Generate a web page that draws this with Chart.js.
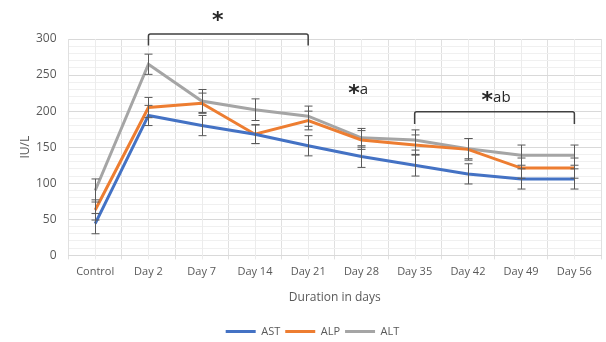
<!DOCTYPE html>
<html lang="en">
<head>
  <meta charset="UTF-8" />
  <title>Enzyme levels</title>
  <script src="https://cdn.jsdelivr.net/npm/chart.js"></script>
  <style>
    html, body { margin: 0; padding: 0; background: #fff; }
    #wrap { width: 606px; height: 342px; }
  </style>
</head>
<body>
  <div id="wrap"><canvas id="chart"></canvas></div>

  <script>
    const days = ['Control', 'Day 2', 'Day 7', 'Day 14', 'Day 21', 'Day 28', 'Day 35', 'Day 42', 'Day 49', 'Day 56'];
    const ast = [44, 194, 180, 168, 152, 137, 125, 113, 106, 106];
    const alp = [63, 205, 211, 168, 187, 160, 153, 147, 121, 121];
    const alt = [90, 265, 214, 202, 193, 163, 160, 148, 139, 139];
    const astErr = [14, 14, 14, 13, 14, 15, 15, 14, 14, 14];
    const alpErr = [14, 14, 14, 13, 13, 13, 14, 15, 14, 14];
    const altErr = [16, 14, 16, 15, 14, 13, 14, 14, 14, 14];

    // significance marks: bracket from/to category index, height in IU/L
    const brackets = [
      { from: 1, to: 4, y: 307, drop: 16, label: '*', sub: '', at: 2.3, ty: 330 },
      { from: 6, to: 9, y: 199, drop: 17, label: '*', sub: 'ab', at: 7.53, ty: 219 }
    ];
    const looseMarks = [{ at: 4.94, ty: 229, label: '*', sub: 'a' }];

    const grey = '#595959';

    const extras = {
      id: 'extras',
      beforeDatasetsDraw(chart) {
        const { ctx, chartArea, scales } = chart;
        ctx.save();
        ctx.strokeStyle = '#ececec';
        ctx.lineWidth = 1;
        days.forEach((d, i) => {
          const x = Math.round(scales.x.getPixelForValue(i)) + 0.5;
          ctx.beginPath();
          ctx.moveTo(x, chartArea.top);
          ctx.lineTo(x, chartArea.bottom + 4);
          ctx.stroke();
        });
        // y axis title
        ctx.translate(chartArea.left - 43, (chartArea.top + chartArea.bottom) / 2);
        ctx.rotate(-Math.PI / 2);
        ctx.fillStyle = grey;
        ctx.font = '12px "Open Sans"';
        ctx.textAlign = 'center';
        ctx.textBaseline = 'middle';
        ctx.fillText('IU/L', 0, 0);
        ctx.restore();
      },
      afterDatasetsDraw(chart) {
        const { ctx, scales } = chart;
        const x = scales.x, y = scales.y;
        const step = x.getPixelForValue(1) - x.getPixelForValue(0);
        ctx.save();
        ctx.strokeStyle = grey;
        ctx.lineWidth = 1;
        [[ast, astErr], [alp, alpErr], [alt, altErr]].forEach(([vals, errs]) => {
          vals.forEach((v, i) => {
            const px = Math.round(x.getPixelForValue(i)) + 0.5;
            const top = y.getPixelForValue(v + errs[i]);
            const bot = y.getPixelForValue(v - errs[i]);
            ctx.beginPath();
            ctx.moveTo(px, top); ctx.lineTo(px, bot);
            ctx.moveTo(px - 4, top); ctx.lineTo(px + 4, top);
            ctx.moveTo(px - 4, bot); ctx.lineTo(px + 4, bot);
            ctx.stroke();
          });
        });

        const mark = (m) => {
          const px = x.getPixelForValue(0) + m.at * step;
          const py = y.getPixelForValue(m.ty);
          ctx.fillStyle = '#262626';
          ctx.textBaseline = 'middle';
          ctx.textAlign = 'left';
          ctx.font = 'bold 22px "DejaVu Sans"';
          const sw = ctx.measureText(m.label).width;
          ctx.font = '15px "Open Sans"';
          const tw = ctx.measureText(m.sub).width;
          const start = px - (sw + tw) / 2;
          ctx.font = 'bold 22px "DejaVu Sans"';
          ctx.fillText(m.label, start, py + 4);
          ctx.font = '15px "Open Sans"';
          ctx.fillText(m.sub, start + sw, py);
        };

        ctx.strokeStyle = '#404040';
        ctx.lineWidth = 1.5;
        brackets.forEach(b => {
          const x1 = x.getPixelForValue(b.from), x2 = x.getPixelForValue(b.to);
          const yy = y.getPixelForValue(b.y), yd = y.getPixelForValue(b.y - b.drop);
          ctx.beginPath();
          ctx.moveTo(x1, yd); ctx.lineTo(x1, yy + 2);
          ctx.quadraticCurveTo(x1, yy, x1 + 2, yy);
          ctx.lineTo(x2 - 2, yy);
          ctx.quadraticCurveTo(x2, yy, x2, yy + 2);
          ctx.lineTo(x2, yd);
          ctx.stroke();
          mark(b);
        });
        looseMarks.forEach(mark);
        ctx.restore();
      }
    };

    const line = (label, data, color) => ({
      label, data,
      borderColor: color,
      backgroundColor: color,
      borderWidth: 3,
      pointRadius: 0,
      tension: 0,
      fill: false
    });

    new Chart(document.getElementById('chart'), {
      type: 'line',
      data: {
        labels: days,
        datasets: [
          line('AST', ast, '#4472C4'),
          line('ALP', alp, '#ED7D31'),
          line('ALT', alt, '#A5A5A5')
        ]
      },
      options: {
        responsive: true,
        maintainAspectRatio: false,
        animation: false,
        layout: { padding: { top: 39, right: 5, left: 24, bottom: -5 } },
        plugins: {
          legend: {
            position: 'bottom',
            labels: {
              boxWidth: 30,
              boxHeight: 3,
              padding: 5,
              color: grey,
              font: { family: 'Open Sans', size: 11 },
              generateLabels(chart) {
                return chart.data.datasets.map((ds, i) => ({
                  text: ds.label,
                  fillStyle: ds.borderColor,
                  strokeStyle: ds.borderColor,
                  lineWidth: 0,
                  fontColor: grey,
                  datasetIndex: i
                }));
              }
            }
          },
          tooltip: { enabled: false }
        },
        scales: {
          x: {
            offset: true,
            grid: { offset: true, color: '#e0e0e0', tickLength: 4 },
            border: { color: '#d9d9d9' },
            ticks: { color: grey, font: { family: 'Open Sans', size: 11 }, maxRotation: 0, padding: 6 },
            title: { display: true, text: 'Duration in days', color: grey, font: { family: 'Open Sans', size: 12 }, padding: { top: 6, bottom: 16 } }
          },
          y: {
            min: 0, max: 300,
            ticks: {
              stepSize: 10,
              autoSkip: false,
              color: grey,
              font: { family: 'Open Sans', size: 12 },
              padding: 12,
              callback: v => (v % 50 === 0 ? v : '')
            },
            grid: {
              color: c => (c.tick.value % 50 === 0 ? '#d9d9d9' : '#f0f0f0'),
              drawTicks: false
            },
            border: { display: false },
            title: { display: false }
          }
        }
      },
      plugins: [extras]
    });
  </script>
</body>
</html>
